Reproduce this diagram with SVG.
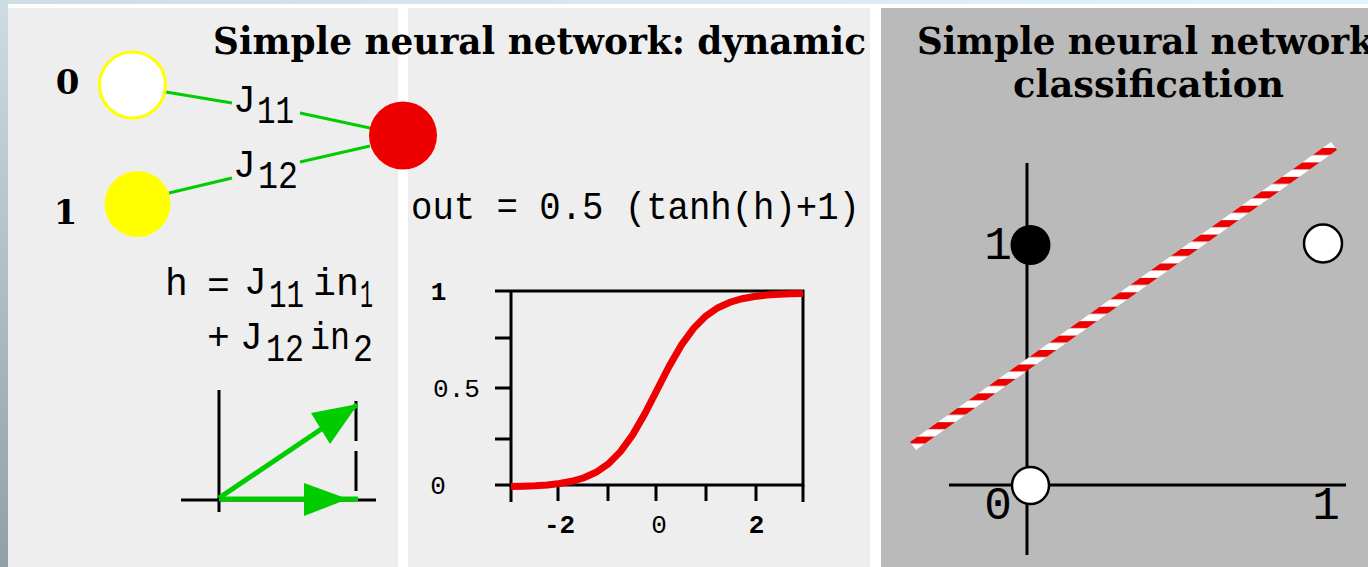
<svg xmlns="http://www.w3.org/2000/svg" width="1368" height="567" viewBox="0 0 1368 567">
<defs>
<linearGradient id="leftEdge" x1="0" y1="0" x2="0" y2="1">
<stop offset="0" stop-color="#cddbe3"/>
<stop offset="1" stop-color="#939fa7"/>
</linearGradient>
<linearGradient id="topEdge" x1="0" y1="0" x2="1" y2="0">
<stop offset="0" stop-color="#cfdce4"/>
<stop offset="1" stop-color="#e2f5fc"/>
</linearGradient>
<pattern id="stripes" patternUnits="userSpaceOnUse" x="0" y="3.7" width="40" height="14.43">
<rect width="40" height="7.2" fill="#ee0000"/>
<rect y="7.2" width="40" height="7.23" fill="#ffffff"/>
</pattern>
</defs>
<style>
.title{font-family:"DejaVu Serif","Liberation Serif",serif;font-weight:bold;font-size:38px;fill:#000}
.bold{font-family:"DejaVu Serif","Liberation Serif",serif;font-weight:bold;font-size:34px;fill:#000}
.mono{font-family:"Liberation Mono",monospace;font-size:38px;fill:#000}
.small{font-family:"Liberation Mono",monospace;font-size:26px;fill:#000}
.big{font-family:"Liberation Mono",monospace;font-size:46px;fill:#000}
.axis{stroke:#000;stroke-width:3;fill:none}
.conn{stroke:#00cc00;stroke-width:3;fill:none}
.vec{stroke:#00cc00;stroke-width:5;fill:none}
.head{fill:#00cc00}
</style>
<g id="background">
<rect x="0" y="0" width="1368" height="567" fill="#ffffff"/>
<rect x="0" y="0" width="1368" height="4" fill="url(#topEdge)"/>
<rect x="0" y="0" width="8" height="567" fill="url(#leftEdge)"/>
<rect x="8" y="8" width="390" height="559" fill="#eeeeee"/>
<rect x="408" y="8" width="462" height="559" fill="#eeeeee"/>
<rect x="881" y="8" width="487" height="559" fill="#bababa"/>
</g>
<g id="titles">
<text class="title" x="213" y="54" textLength="653" lengthAdjust="spacingAndGlyphs">Simple neural network: dynamic</text>
<text class="title" x="917" y="54" textLength="470" lengthAdjust="spacingAndGlyphs">Simple neural network:</text>
<text class="title" x="1013" y="97" textLength="271" lengthAdjust="spacingAndGlyphs">classification</text>
</g>
<g id="connectors">
<line class="conn" x1="166" y1="92" x2="232" y2="103"/>
<line class="conn" x1="300" y1="113" x2="370" y2="128"/>
<line class="conn" x1="169" y1="193" x2="232" y2="178"/>
<line class="conn" x1="300" y1="162" x2="370" y2="146"/>
</g>
<g id="input0">
<circle cx="132.5" cy="85" r="33" fill="#ffffff" stroke="#ffff00" stroke-width="3"/>
<text class="bold" x="67.5" y="94" text-anchor="middle">0</text>
</g>
<g id="input1">
<circle cx="137.5" cy="204" r="33" fill="#ffff00"/>
<text class="bold" x="65.5" y="224" text-anchor="middle">1</text>
</g>
<g id="output">
<circle cx="403" cy="135.5" r="34" fill="#ee0000"/>
</g>
<g id="weight-labels">
<text class="mono" x="233" y="112">J<tspan x="257" y="123" textLength="37" lengthAdjust="spacingAndGlyphs">11</tspan></text>
<text class="mono" x="233" y="177">J<tspan x="258" y="188" textLength="40" lengthAdjust="spacingAndGlyphs">12</tspan></text>
</g>
<g id="formula-h">
<text class="mono" y="295"><tspan x="165">h</tspan><tspan x="207" y="298">=</tspan><tspan x="244" y="294">J</tspan><tspan x="269" y="307" textLength="35" lengthAdjust="spacingAndGlyphs">11</tspan><tspan x="313" y="295" textLength="46" lengthAdjust="spacingAndGlyphs">in</tspan><tspan x="360" y="307" textLength="13" lengthAdjust="spacingAndGlyphs">1</tspan></text>
<text class="mono" y="349"><tspan x="207">+</tspan><tspan x="240">J</tspan><tspan x="266" y="361" textLength="38" lengthAdjust="spacingAndGlyphs">12</tspan><tspan x="310" y="349" textLength="40" lengthAdjust="spacingAndGlyphs">in</tspan><tspan x="353" y="361" textLength="20" lengthAdjust="spacingAndGlyphs">2</tspan></text>
</g>
<g id="vector-sketch">
<line class="axis" x1="219" y1="390" x2="219" y2="512"/>
<line class="axis" x1="181" y1="500" x2="376" y2="500"/>
<line class="axis" x1="356" y1="401" x2="356" y2="441"/>
<line class="axis" x1="356" y1="451" x2="356" y2="491"/>
<line class="vec" x1="219" y1="498" x2="357" y2="405"/>
<polygon class="head" points="311,413 330,444 358,404"/>
<line class="vec" x1="219" y1="499" x2="358" y2="499"/>
<polygon class="head" points="304,483 304,516 348,499"/>
</g>
<g id="sigmoid-formula">
<text class="mono" x="411" y="219" textLength="449" lengthAdjust="spacingAndGlyphs">out = 0.5 (tanh(h)+1)</text>
</g>
<g id="sigmoid-plot">
<polyline class="axis" points="511,291 511,485 803,485 803,291 511,291"/>
<path class="axis" d="M495,291H511M495,338H511M495,388H511M495,439H511M495,485H511M511,485V502M558,485V501M608,485V501M656,485V501M706,485V501M756,485V501M803,485V502"/>
<polyline fill="none" stroke="#ee0000" stroke-width="7" points="511,486.5 523.2,486.2 535.3,485.7 547.5,484.9 559.7,483.5 571.8,481.3 584,477.8 596.2,472.3 608.3,463.9 620.5,451.6 632.7,434.8 644.8,413.8 657,390 669.2,366.2 681.3,345.2 693.5,328.4 705.7,316.1 717.8,307.7 730,302.2 742.2,298.7 754.3,296.5 766.5,295.1 778.7,294.3 790.8,293.8 803,293.5"/>
<text class="small" x="438.5" y="300" text-anchor="middle" font-weight="bold">1</text>
<text class="small" x="456.5" y="397" text-anchor="middle">0.5</text>
<text class="small" x="438" y="494" text-anchor="middle">0</text>
<text class="small" x="559.5" y="533" text-anchor="middle" font-weight="bold">-2</text>
<text class="small" x="659" y="533" text-anchor="middle">0</text>
<text class="small" x="756.5" y="533" text-anchor="middle" font-weight="bold">2</text>
</g>
<g id="classification-plot">
<line class="axis" x1="1027" y1="163" x2="1027" y2="555"/>
<line class="axis" x1="949" y1="485" x2="1346" y2="485"/>
<line x1="913" y1="446" x2="1334" y2="146" stroke="url(#stripes)" stroke-width="10"/>
<text class="big" x="998" y="259" text-anchor="middle">1</text>
<text class="big" x="998" y="519" text-anchor="middle">0</text>
<text class="big" x="1326" y="519" text-anchor="middle">1</text>
</g>
<g id="point-01">
<circle cx="1030.5" cy="245" r="20" fill="#000000"/>
</g>
<g id="point-11">
<circle cx="1323" cy="243.5" r="19" fill="#ffffff" stroke="#000" stroke-width="2.5"/>
</g>
<g id="point-00">
<circle cx="1030.5" cy="485.5" r="18.5" fill="#ffffff" stroke="#000" stroke-width="2.5"/>
</g>
</svg>
